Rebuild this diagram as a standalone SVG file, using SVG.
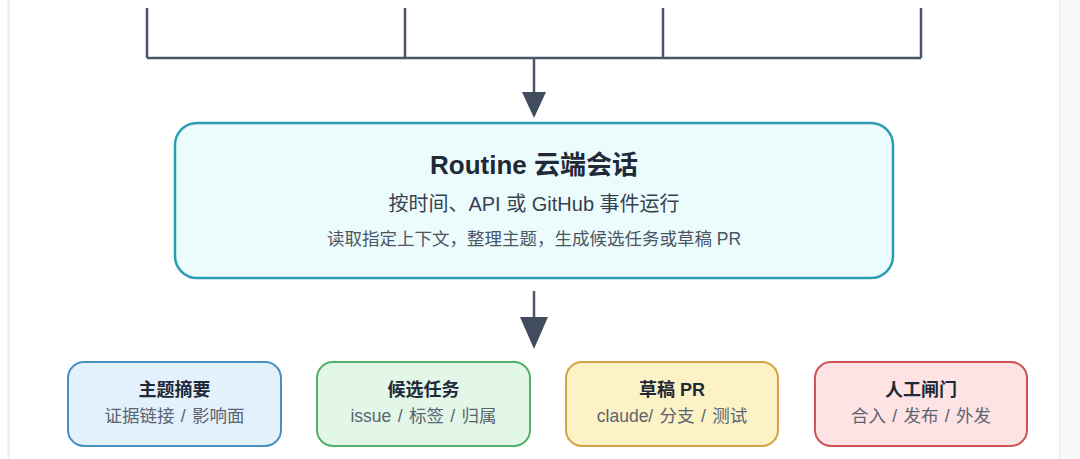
<svg xmlns="http://www.w3.org/2000/svg" width="1080" height="459" viewBox="0 0 1080 459">
<style>
text{font-family:"Liberation Sans","Noto Sans CJK SC",sans-serif;text-anchor:middle}
.t1{font-size:26px;font-weight:700;fill:#1f2937}
.t2{font-size:20px;fill:#374151}
.t3{font-size:17.5px;fill:#4b5563}
.bt{font-size:18px;font-weight:700;fill:#1f2937}
.bs{font-size:17.5px;fill:#5b6470;word-spacing:1.5px}
.wire{fill:none;stroke:#4a5568;stroke-width:2.5}
.head{fill:#414d5e}
</style>
<rect x="0" y="0" width="1080" height="459" fill="#ffffff"/>
<rect x="1059" y="0" width="21" height="459" fill="#f8f9fb"/>
<line x1="1059.5" y1="0" x2="1059.5" y2="459" stroke="#eceef1" stroke-width="1.5"/>
<line x1="8.5" y1="0" x2="8.5" y2="459" stroke="#e6edf5" stroke-width="2"/>
<g id="connectors">
<path class="wire" d="M147 8V58M405 8V58M663 8V58M921 8V58M147 58H921M534 58V94"/>
<polygon class="head" points="522,92 546,92 534,118"/>
<path class="wire" d="M534 291V320" stroke-width="3"/>
<polygon class="head" points="520,317 548,317 534,349"/>
</g>
<g id="routine">
<rect x="175" y="123" width="718" height="155" rx="22" fill="#ecfcfd" stroke="#2b9db5" stroke-width="2.5"/>
<text class="t1" x="534" y="174">Routine 云端会话</text>
<text class="t2" x="534" y="211">按时间、API 或 GitHub 事件运行</text>
<text class="t3" x="534" y="245">读取指定上下文，整理主题，生成候选任务或草稿 PR</text>
</g>
<g id="summary">
<rect x="68" y="362" width="213" height="84" rx="16" fill="#e3f1fd" stroke="#4a8fbf" stroke-width="2"/>
<text class="bt" x="174.5" y="396">主题摘要</text>
<text class="bs" x="174.5" y="422">证据链接 / 影响面</text>
</g>
<g id="candidate">
<rect x="317" y="362" width="213" height="84" rx="16" fill="#e2f7e7" stroke="#52b06b" stroke-width="2"/>
<text class="bt" x="423.5" y="396">候选任务</text>
<text class="bs" x="423.5" y="422">issue / 标签 / 归属</text>
</g>
<g id="draftpr">
<rect x="566" y="362" width="212" height="84" rx="16" fill="#fdf1c6" stroke="#d8a441" stroke-width="2"/>
<text class="bt" x="672" y="396">草稿 PR</text>
<text class="bs" x="672" y="422">claude/ 分支 / 测试</text>
</g>
<g id="gate">
<rect x="815" y="362" width="212" height="84" rx="16" fill="#fde3e3" stroke="#cf5555" stroke-width="2"/>
<text class="bt" x="921" y="396">人工闸门</text>
<text class="bs" x="921" y="422">合入 / 发布 / 外发</text>
</g>
</svg>
